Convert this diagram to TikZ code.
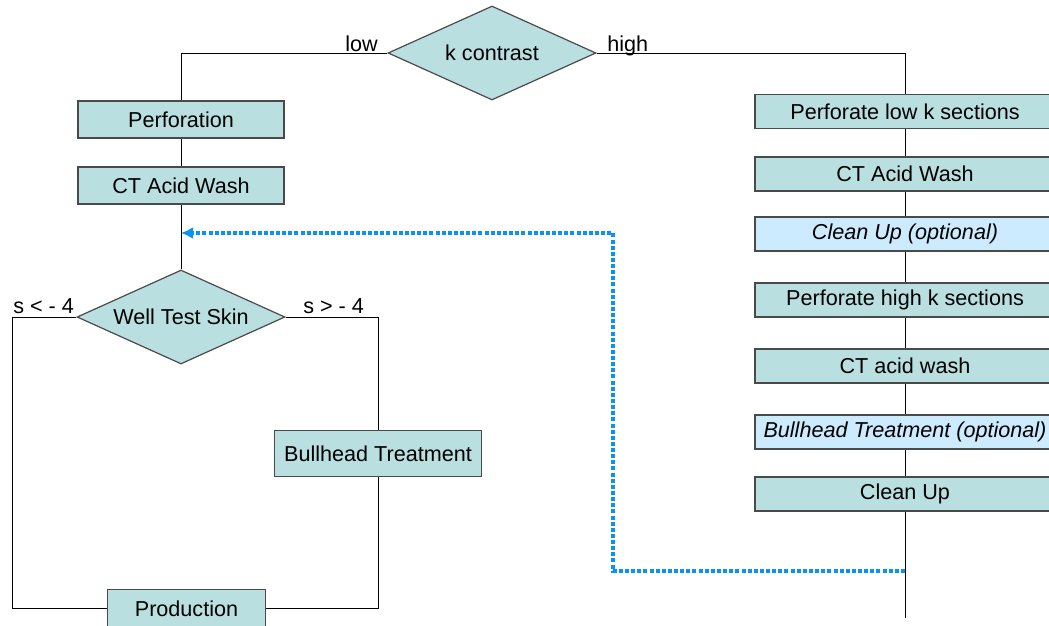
\documentclass[tikz,border=0pt]{standalone}
\usepackage{fontspec}
\setmainfont{Liberation Sans}
\usetikzlibrary{shapes.geometric,arrows.meta}

\definecolor{boxfill}{HTML}{B9DFE1}
\definecolor{optfill}{HTML}{CCEBFF}
\definecolor{boxline}{HTML}{4A4A4A}
\definecolor{loopblue}{HTML}{0A93F5}

\begin{document}
\begin{tikzpicture}[x=0.75pt,y=-0.75pt,
    every node/.style={font=\fontsize{16.2}{19}\selectfont},
    box/.style={draw=boxline,fill=boxfill,line width=0.9pt,inner sep=0pt},
    stepbox/.style={box,minimum width=225pt,minimum height=25.5pt},
    optbox/.style={stepbox,fill=optfill,font=\fontsize{16.2}{19}\selectfont\itshape},
    decision/.style={diamond,aspect=2.2,draw=boxline,fill=boxfill,line width=0.9pt,inner sep=0pt,
      minimum width=156pt,minimum height=70.5pt},
    lbl/.style={inner sep=0pt},
    flow/.style={line width=0.6pt},
    loopback/.style={draw=loopblue,line width=2.8pt,dash pattern=on 3pt off 1.6pt,
      -{Latex[length=9pt,width=9pt]}}]

  \useasboundingbox (0,0) rectangle (1049,625);

  % top decision
  \node[decision] (kc) at (492,53) {k contrast};
  \node[lbl,anchor=base east] (low) at (378,51) {low};
  \node[lbl,anchor=base west] (high) at (607,51) {high};

  % left branch
  \node[box,minimum width=154.5pt,minimum height=27.75pt] (perf) at (181,119.5) {Perforation};
  \node[box,minimum width=154.5pt,minimum height=27.75pt] (ctaw) at (181,185.5) {CT Acid Wash};
  \node[decision] (wts) at (181,317) {Well Test Skin};
  \node[lbl,anchor=base west] (sneg) at (13,313) {s < - 4};
  \node[lbl,anchor=base west] (spos) at (303,313) {s > - 4};
  \node[box,minimum width=155pt,minimum height=34pt] (bull) at (378,453.5) {Bullhead Treatment};
  \node[box,minimum width=119pt,minimum height=28.5pt] (prod) at (186.5,608.5) {Production};
  \coordinate (leftc) at (12,608.5);

  % right branch
  \node[stepbox] (plow) at (905,111.5) {Perforate low k sections};
  \node[stepbox] (ctaw2) at (905,174) {CT Acid Wash};
  \node[optbox] (cup1) at (905,234) {Clean Up (optional)};
  \node[stepbox] (phigh) at (905,300) {Perforate high k sections};
  \node[stepbox] (ctaw3) at (905,366) {CT acid wash};
  \node[optbox] (bull2) at (905,432) {Bullhead Treatment (optional)};
  \node[stepbox] (cup2) at (905,494) {Clean Up};
  \coordinate (colend) at (905,618);

  % connectors
  \draw[flow] (kc.west) -| (perf.north);
  \draw[flow] (perf) -- (ctaw);
  \draw[flow] (ctaw) -- (wts);
  \draw[flow] (wts.west) -| (leftc) -- (prod.west);
  \draw[flow] (wts.east) -| (bull.north);
  \draw[flow] (bull.south) |- (prod.east);

  \draw[flow] (kc.east) -| (plow.north);
  \draw[flow] (plow) -- (ctaw2);
  \draw[flow] (ctaw2) -- (cup1);
  \draw[flow] (cup1) -- (phigh);
  \draw[flow] (phigh) -- (ctaw3);
  \draw[flow] (ctaw3) -- (bull2);
  \draw[flow] (bull2) -- (cup2);
  \draw[flow] (cup2) -- (colend);

  % loop back
  \coordinate (loopstart) at (905,571);
  \coordinate (turn) at (613,571);
  \coordinate (loopend) at (181,233);
  \draw[loopback] (loopstart) -- (turn) |- (loopend);

\end{tikzpicture}
\end{document}
